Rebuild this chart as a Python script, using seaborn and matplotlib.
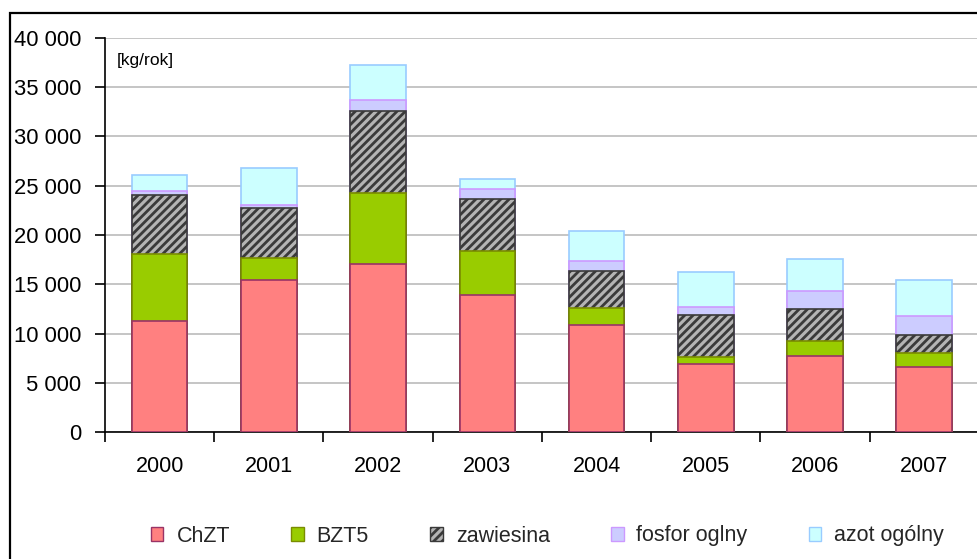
import numpy as np
import pandas as pd
import matplotlib
matplotlib.use("Agg")
import matplotlib.pyplot as plt
import seaborn as sns
from matplotlib.patches import Patch, Rectangle
from matplotlib.ticker import FuncFormatter, MultipleLocator, FixedLocator

years = ["2000", "2001", "2002", "2003", "2004", "2005", "2006", "2007"]
chzt = [11300, 15400, 17100, 13900, 10900, 6900, 7700, 6550]
bzt5 = [6800, 2300, 7150, 4500, 1700, 750, 1500, 1500]
zawiesina = [6000, 5000, 8350, 5250, 3750, 4250, 3300, 1750]
fosfor = [400, 350, 1100, 1050, 1000, 800, 1800, 1950]
azot = [1550, 3750, 3550, 950, 3100, 3500, 3250, 3650]
series_names = ["ChZT", "BZT5", "zawiesina", "fosfor oglny", "azot ogólny"]

df = pd.DataFrame({"rok": years, "ChZT": chzt, "BZT5": bzt5, "zawiesina": zawiesina,
                   "fosfor oglny": fosfor, "azot ogólny": azot})
cum = df[series_names].cumsum(axis=1)
cum["rok"] = df["rok"]

styles = {
    "ChZT": dict(face="#FF8080", edge="#993366", hatch=None),
    "BZT5": dict(face="#99CC00", edge="#7A8C00", hatch=None),
    "zawiesina": dict(face="#B4B4B4", edge="#3A3A3A", hatch="////"),
    "fosfor oglny": dict(face="#CCCCFF", edge="#CC99FF", hatch=None),
    "azot ogólny": dict(face="#CCFFFF", edge="#99CCFF", hatch=None),
}

sns.set_theme(style="white")
plt.rcParams["font.family"] = ["Liberation Sans", "DejaVu Sans"]
plt.rcParams["hatch.linewidth"] = 2.0

fig = plt.figure(figsize=(9.78, 5.59), dpi=100)
ax = fig.add_axes([105/978, 127/559, 1.0 - 105/978 + 0.001, (432-38)/559])

for name in reversed(series_names):
    st = styles[name]
    sns.barplot(data=cum, x="rok", y=name, ax=ax, color=st["face"], saturation=1,
                width=0.51, edgecolor=st["edge"], linewidth=1.2, hatch=st["hatch"],
                errorbar=None, zorder=3)

ax.set_xlim(-0.5, 7.5)
ax.set_ylim(0, 40000)
ax.yaxis.set_major_locator(MultipleLocator(5000))
ax.yaxis.set_major_formatter(FuncFormatter(lambda v, p: f"{int(v):,}".replace(",", " ")))
ax.set_xlabel("")
ax.set_ylabel("")
ax.grid(axis="y", color="#C0C0C0", linewidth=1.3, zorder=0)
ax.set_axisbelow(True)
for s in ["top", "right"]:
    ax.spines[s].set_visible(False)
for s in ["left", "bottom"]:
    ax.spines[s].set_color("black")
    ax.spines[s].set_linewidth(1.2)

ax.xaxis.set_minor_locator(FixedLocator(np.arange(-0.5, 8.0, 1.0)))
ax.tick_params(axis="x", which="major", length=0, pad=17, labelsize=15.5, colors="black")
ax.tick_params(axis="x", which="minor", length=7, width=1.2, direction="out", color="black", bottom=True)
ax.tick_params(axis="y", which="major", length=7, width=1.2, direction="out", left=True,
               pad=10, labelsize=15.8, colors="black")

ax.text(117/978, 1 - 60/559, "[kg/rok]", transform=fig.transFigure, fontsize=12.6,
        ha="left", va="center", color="black")

# outer frame
fig.patches.append(Rectangle((10/978, -0.05), 1.2, 1 - 13/559 + 0.05, transform=fig.transFigure,
                             fill=False, edgecolor="black", linewidth=1.6))

handles = [Patch(facecolor=styles[n]["face"], edgecolor=styles[n]["edge"],
                 hatch=styles[n]["hatch"], linewidth=1.0) for n in series_names]
fig.legend(handles, series_names, loc="center left", bbox_to_anchor=(151/978, 1 - 536/559), ncol=5,
           frameon=False, fontsize=15.5, handlelength=0.58, handleheight=0.62,
           handletextpad=0.6, columnspacing=2.85, borderpad=0, borderaxespad=0)

fig.savefig("out.png", dpi=100)
